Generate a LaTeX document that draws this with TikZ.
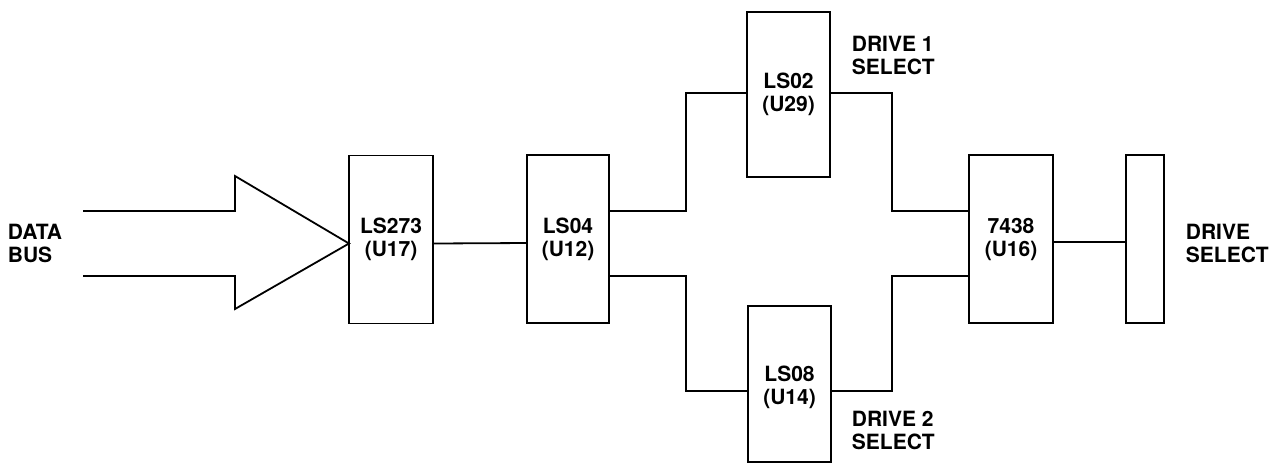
\documentclass[tikz,border=0pt]{standalone}
\usepackage{fontspec}
\setmainfont{TeX Gyre Heros}
\usepackage{tikz}
\usetikzlibrary{positioning}

\begin{document}
\begin{tikzpicture}[
  x=0.5pt, y=-0.5pt,
  font=\fontsize{10.5}{11.5}\selectfont\bfseries,
  line width=0.9pt,
  chip/.style={draw, inner sep=0pt, outer sep=0pt, align=center,
               minimum width=42pt, minimum height=84pt},
  lbl/.style={anchor=west, align=left, inner sep=0pt}
]
\useasboundingbox (0,0) rectangle (1277,472);

\node[chip] (ls273) at (391,239.5) {LS273\\(U17)};
\node[chip, minimum width=41pt] (ls04) at (568,239) {LS04\\(U12)};
\node[chip, minimum width=41.5pt, minimum height=82.5pt] (ls02) at (788.5,94.5) {LS02\\(U29)};
\node[chip, minimum width=41.5pt, minimum height=78pt] (ls08) at (789.5,384) {\\LS08\\(U14)};
\node[chip] (u16) at (1011,239) {7438\\(U16)};
\node[chip, minimum width=19pt] (drv) at (1145,239) {};

\node[lbl] (bus) at (7,243) {DATA\\BUS};
\node[lbl] (drvsel) at (1185,243) {DRIVE\\SELECT};
\node[lbl] (sel1) at (851,55) {DRIVE 1\\SELECT};
\node[lbl] (sel2) at (851,430) {DRIVE 2\\SELECT};

% data bus arrow
\coordinate (bustop) at (83,211);
\coordinate (busbot) at (83,276);
\draw (bustop) -- (235,211) -- (235,176) -- ([yshift=-2pt]ls273.west)
  -- (235,309) -- (235,276) -- (busbot);

\draw ([yshift=-2pt]ls273.east) -- ([yshift=-2pt]ls04.west);
% split to the two gates
\draw ([yshift=14pt]ls04.east) -- ++(38.5pt,0) |- ([yshift=0.75pt]ls02.west);
\draw ([yshift=-18.5pt]ls04.east) -- ++(38.5pt,0) |- ([yshift=-3.5pt]ls08.west);
% merge into 7438
\draw ([yshift=0.75pt]ls02.east) -- ++(31pt,0) |- ([yshift=14pt]u16.west);
\draw ([yshift=-3.5pt]ls08.east) -- ++(30.5pt,0) |- ([yshift=-18.5pt]u16.west);
\draw ([yshift=-1.5pt]u16.east) -- ([yshift=-1.5pt]drv.west);
\end{tikzpicture}
\end{document}
